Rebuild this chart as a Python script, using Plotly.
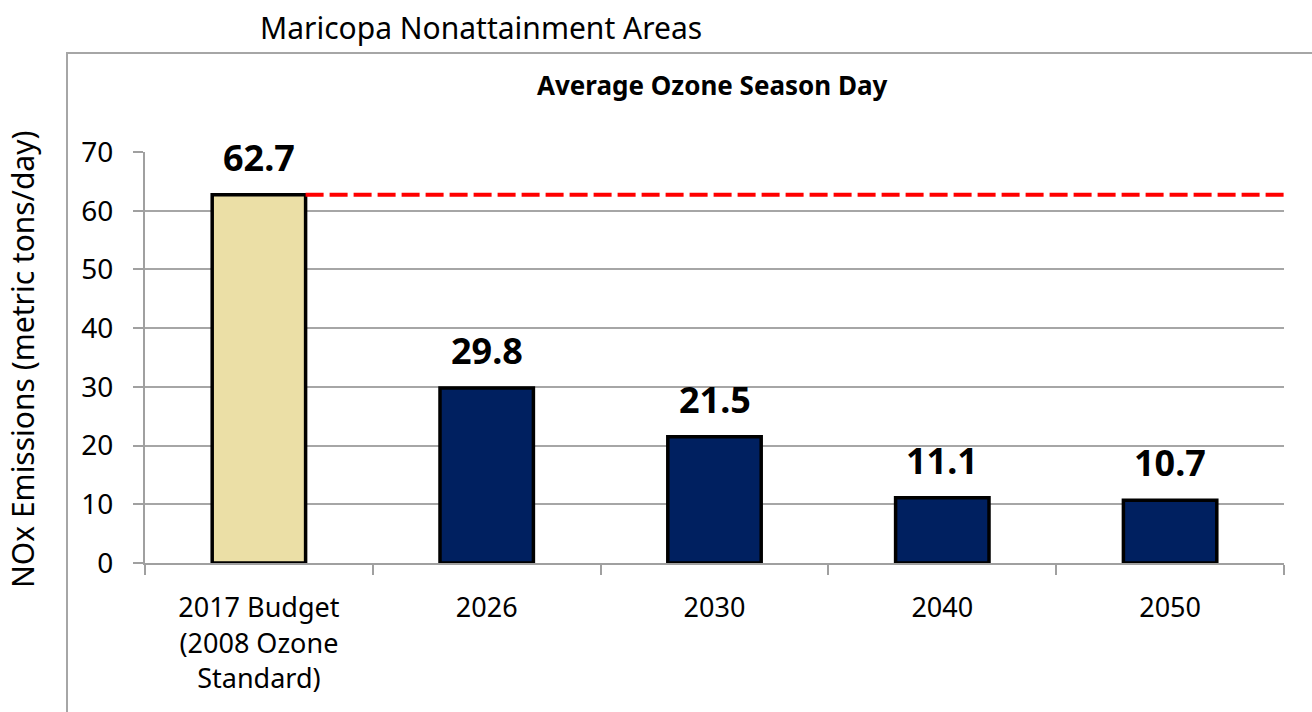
import plotly.graph_objects as go

categories = ["2017 Budget<br>(2008 Ozone<br>Standard)", "2026", "2030", "2040", "2050"]
values = [62.7, 29.8, 21.5, 11.1, 10.7]
labels = ["62.7", "29.8", "21.5", "11.1", "10.7"]
colors = ["#EBDFA6", "#002060", "#002060", "#002060", "#002060"]
budget = values[0]
y_ticks = [0, 10, 20, 30, 40, 50, 60, 70]

FONT = "Noto Sans"
BAR_W = 0.41

fig = go.Figure()
fig.add_trace(go.Bar(
    x=categories, y=values, width=BAR_W,
    marker=dict(color=colors, line=dict(color="#000000", width=3.5)),
    hoverinfo="skip", showlegend=False,
))

# budget reference line from the right edge of first bar to plot end
fig.add_shape(type="line", xref="x", yref="y",
              x0=BAR_W / 2, x1=len(categories) - 0.5, y0=budget, y1=budget,
              line=dict(color="#FF0000", width=4, dash="18px,6px"), layer="above")

annotations = []
for i, (v, t) in enumerate(zip(values, labels)):
    annotations.append(dict(x=i, y=v, xref="x", yref="y", text="<b>%s</b>" % t,
                            showarrow=False, yanchor="bottom", yshift=11,
                            font=dict(family=FONT, size=36, color="#000000")))

L, R, T, B = 145, 28, 152, 149
W, H = 1312, 712
pw, ph = W - L - R, H - T - B

def px(x):
    return (x - L) / pw

def py(y):
    return (H - B - y) / ph

annotations += [
    dict(xref="paper", yref="paper", x=px(258), y=py(28), text="Maricopa Nonattainment Areas",
         xanchor="left", yanchor="middle", showarrow=False,
         font=dict(family=FONT, size=30, color="#000000")),
    dict(xref="paper", yref="paper", x=px(712), y=py(85), text="<b>Average Ozone Season Day</b>",
         xanchor="center", yanchor="middle", showarrow=False,
         font=dict(family=FONT, size=26, color="#000000")),
    dict(xref="paper", yref="paper", x=px(22), y=py(360), text="NOx Emissions (metric tons/day)",
         xanchor="center", yanchor="middle", textangle=-90, showarrow=False,
         font=dict(family=FONT, size=30, color="#000000")),
]

fig.add_shape(type="rect", xref="paper", yref="paper",
              x0=px(67), x1=px(1340), y0=py(740), y1=py(53),
              line=dict(color="#A6A6A6", width=2), fillcolor="rgba(0,0,0,0)", layer="below")

fig.update_layout(
    width=W, height=H,
    margin=dict(l=L, r=R, t=T, b=B, autoexpand=False),
    paper_bgcolor="white", plot_bgcolor="white",
    annotations=annotations,
    font=dict(family=FONT, color="#000000"),
)
fig.update_xaxes(
    type="category", categoryorder="array", categoryarray=categories,
    range=[-0.5, len(categories) - 0.5],
    showline=True, linecolor="#A0A0A0", linewidth=2,
    ticks="outside", tickson="boundaries", ticklen=10, tickcolor="#A0A0A0", tickwidth=2,
    showgrid=False, zeroline=False,
    tickfont=dict(family=FONT, size=27, color="#000000"),
    ticklabelstandoff=20,
)
fig.update_yaxes(
    range=[0, 70], tickmode="array", tickvals=y_ticks,
    showline=True, linecolor="#A0A0A0", linewidth=2,
    ticks="outside", ticklen=10, tickcolor="#A0A0A0", tickwidth=2,
    showgrid=True, gridcolor="#A6A6A6", gridwidth=1.5, zeroline=False,
    tickfont=dict(family=FONT, size=28, color="#000000"),
    ticklabelstandoff=14,
)

fig.write_html("out.html")
